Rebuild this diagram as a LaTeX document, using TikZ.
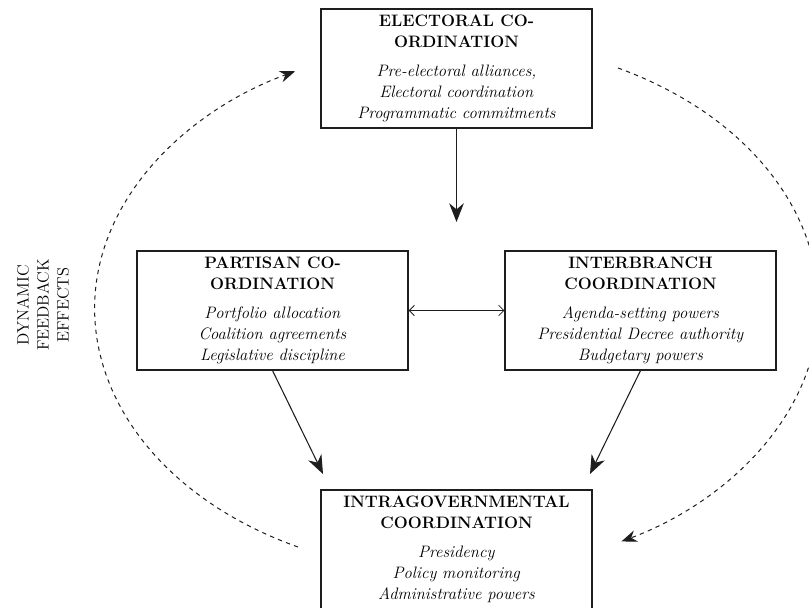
\documentclass[tikz,border=0pt]{standalone}
\usepackage{amsmath,amssymb}
\usepackage{xcolor}
\usepackage{tikz}
\usetikzlibrary{arrows.meta,positioning,calc}
\definecolor{inkgray}{HTML}{1E1E1E}

\begin{document}
\begin{tikzpicture}[x=0.7pt,y=0.7pt,
  stage/.style={rectangle,draw=inkgray,line width=0.75pt,fill=white,align=center,
                minimum width=189.7pt,minimum height=83.3pt,inner sep=2pt,
                font=\fontsize{11.6}{14.7}\selectfont},
  flow/.style={-{Stealth[length=4.6mm,width=3.6mm]},line width=0.75pt,draw=inkgray},
  link/.style={{Straight Barb[length=1.3mm]}-{Straight Barb[length=1.3mm]},semithick,draw=inkgray},
  feedback/.style={-{Stealth[length=3.8mm,width=2.9mm]},line width=0.7pt,dashed,draw=inkgray}
]
\useasboundingbox (0,0) rectangle (809,607);
\node[stage] (elect) at (456.5,538.5) {\textbf{ELECTORAL CO-}\\\textbf{ORDINATION}\\[5.5pt]
  \textit{Pre-electoral alliances,}\\\textit{Electoral coordination}\\\textit{Programmatic commitments}};
\node[stage] (partisan) at (272.5,296.5) {\textbf{PARTISAN CO-}\\\textbf{ORDINATION}\\[5.5pt]
  \textit{Portfolio allocation}\\\textit{Coalition agreements}\\\textit{Legislative discipline}};
\node[stage] (inter) at (640.5,296.5) {\textbf{INTERBRANCH}\\\textbf{COORDINATION}\\[5.5pt]
  \textit{Agenda-setting powers}\\\textit{Presidential Decree authority}\\\textit{Budgetary powers}};
\node[stage] (intra) at (456.5,57.5) {\textbf{INTRAGOVERNMENTAL}\\\textbf{COORDINATION}\\[5.5pt]
  \textit{Presidency}\\\textit{Policy monitoring}\\\textit{Administrative powers}};
\node[rotate=90,align=center,font=\fontsize{11.5}{14}\selectfont] (dfe) at (43,302)
  {DYNAMIC\\FEEDBACK\\EFFECTS};

% main flows
\coordinate (eTip) at (456.5,385);
\coordinate (pTip) at (323,133);
\coordinate (iTip) at (590,133);
\draw[flow] (elect.south) -- (eTip);
\draw[flow] (partisan.south) -- (pTip);
\draw[flow] (inter.south) -- (iTip);
\draw[link] (partisan.east) -- (inter.west);

% feedback loops
\coordinate (fbL) at (298,60);
\coordinate (fbR) at (618,539);
\draw[feedback] (fbL) arc[start angle=244.1,end angle=116.4,x radius=361,y radius=265];
\draw[feedback] (fbR) arc[start angle=63.6,end angle=-63,x radius=361,y radius=265];
\end{tikzpicture}
\end{document}
